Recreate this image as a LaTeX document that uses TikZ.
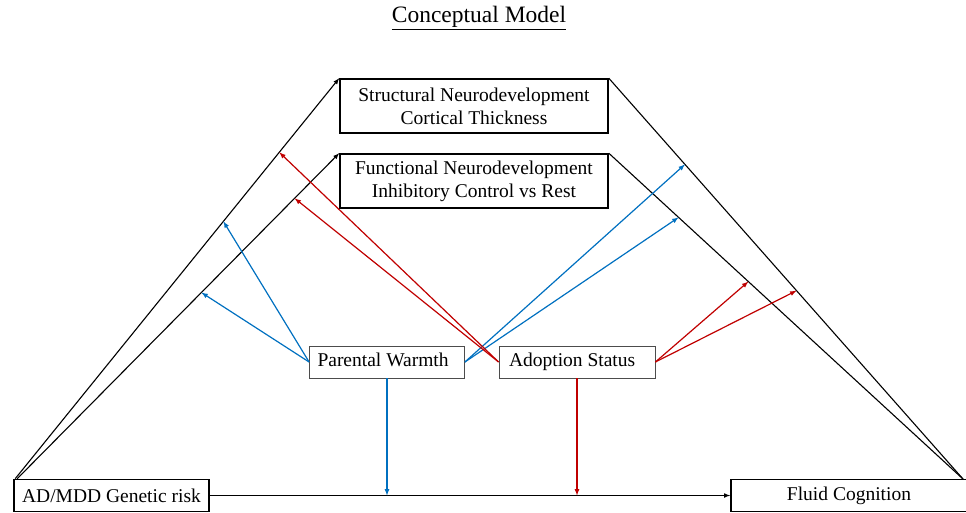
\documentclass[tikz,border=0pt]{standalone}
\usepackage{fontspec}
\setmainfont{Liberation Serif}
\usepackage{tikz}
\usetikzlibrary{arrows}
\definecolor{warmblue}{RGB}{0,112,192}
\definecolor{adoptred}{RGB}{192,0,0}
\tikzset{
	neurobox/.style={draw,line width=1.6pt,minimum width=268pt,minimum height=54pt,inner sep=0pt,align=center,font=\fontsize{19.5}{23}\selectfont},
	endbox/.style={draw,line width=1.6pt,minimum height=32pt,inner sep=0pt,font=\fontsize{19.5}{23}\selectfont},
	modbox/.style={draw=black!70,line width=0.8pt,minimum height=32pt,inner ysep=0pt,inner xsep=8pt,font=\fontsize{19.5}{23}\selectfont}
}

\begin{document}
\begin{tikzpicture}[x=1pt,y=-1pt,>=latex]
		\useasboundingbox (0,0) rectangle (966,512);
		\node (title) at (479,18) {\fontsize{23.5}{26}\selectfont\underline{Conceptual Model}};
		%
		\node[neurobox] (struct) at (474,106) {Structural Neurodevelopment\\Cortical Thickness};
		\node[neurobox] (func) at (474,181) {Functional Neurodevelopment\\Inhibitory Control vs Rest};
		\node[modbox] (warmth) at (387,362) {\makebox[139pt][l]{\strut Parental Warmth}};
		\node[modbox] (adopt) at (577,362) {\makebox[140pt][l]{\strut\hspace{2pt}Adoption Status}};
		\node[endbox,minimum width=195pt] (risk) at (111.5,495.5) {AD/MDD Genetic risk};
		\node[endbox,minimum width=236pt] (fluid) at (849,495.5) {Fluid Cognition};
		\coordinate (cog) at (963,479);
		%
		% main paths
		\draw[->,line width=1.1pt] ([xshift=2pt]risk.north west) -- coordinate[pos=0.6425] (sb) coordinate[pos=0.815] (sr) (struct.north west);
		\draw[->,line width=1.1pt] ([xshift=4pt]risk.north west) -- coordinate[pos=0.572] (fb) coordinate[pos=0.8615] (fr) (func.north west);
		\draw[line width=1.1pt] (struct.north east) -- coordinate[pos=0.215] (sb') coordinate[pos=0.53] (sr') (cog);
		\draw[line width=1.1pt] (func.north east) -- coordinate[pos=0.197] (fb') coordinate[pos=0.394] (fr') (cog);
		\draw[->,line width=1.1pt] (risk.east) -- (fluid.west);
		%
		% moderators
		\path[->,line width=1.2pt,warmblue]
		(warmth.west) edge (sb)
		(warmth.west) edge (fb)
		(warmth.east) edge (sb')
		(warmth.east) edge (fb')
		(warmth.south) edge (warmth.south |- risk.east);
		\path[->,line width=1.2pt,adoptred]
		(adopt.west) edge (sr)
		(adopt.west) edge (fr)
		(adopt.east) edge (sr')
		(adopt.east) edge (fr')
		(adopt.south) edge (adopt.south |- risk.east);
\end{tikzpicture}
\end{document}
